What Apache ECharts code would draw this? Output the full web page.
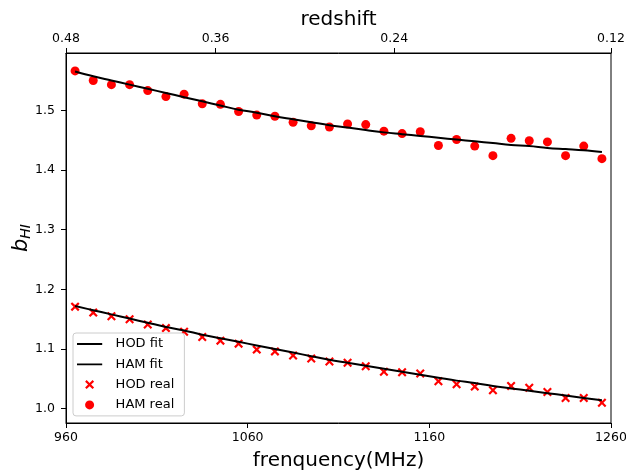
<!DOCTYPE html>
<html>
<head>
<meta charset="utf-8">
<script src="https://cdn.jsdelivr.net/npm/echarts@6/dist/echarts.min.js"></script>
<style>html,body{margin:0;padding:0;background:#fff}#c{width:626px;height:473px}</style>
</head>
<body>
<div id="c"></div>
<script>
var freq = [965,975,985,995,1005,1015,1025,1035,1045,1055,1065,1075,1085,1095,1105,1115,1125,1135,1145,1155,1165,1175,1185,1195,1205,1215,1225,1235,1245,1255];
var hamReal = [1.566,1.550,1.543,1.543,1.533,1.523,1.527,1.511,1.510,1.498,1.492,1.490,1.480,1.474,1.472,1.477,1.476,1.465,1.461,1.464,1.441,1.451,1.440,1.424,1.453,1.449,1.447,1.424,1.440,1.419];
var hamFit = [1.565,1.557,1.550,1.543,1.536,1.529,1.522,1.515,1.508,1.501,1.496,1.490,1.485,1.480,1.475,1.471,1.467,1.463,1.460,1.457,1.454,1.451,1.448,1.445,1.442,1.440,1.437,1.435,1.433,1.430];
var hodReal = [1.171,1.161,1.155,1.150,1.141,1.135,1.129,1.120,1.114,1.109,1.099,1.096,1.089,1.084,1.079,1.077,1.071,1.062,1.061,1.059,1.046,1.041,1.037,1.031,1.038,1.035,1.028,1.018,1.018,1.010];
var hodFit = [1.172,1.165,1.158,1.151,1.144,1.137,1.131,1.124,1.118,1.112,1.106,1.100,1.094,1.088,1.082,1.077,1.072,1.067,1.062,1.057,1.052,1.047,1.043,1.038,1.034,1.030,1.026,1.022,1.018,1.014];
var freqTicks = [960,1060,1160,1260];
var zTicks = [0.48,0.36,0.24,0.12];
var yTicks = [1.0,1.1,1.2,1.3,1.4,1.5];

function pairs(xs, ys){ return xs.map(function(x,i){ return [x, ys[i]]; }); }
var invZ = zTicks.map(function(z){ return 1/(1+z); });

var FONT = 'DejaVu Sans';
var crossPath = 'path://M0,1.7 L1.7,0 L5,3.3 L8.3,0 L10,1.7 L6.7,5 L10,8.3 L8.3,10 L5,6.7 L1.7,10 L0,8.3 L3.3,5 Z';
var lineIcon = 'path://M0,4 L28,4 L28,6 L0,6 Z M0,0 L0.01,0 L0,0.01 Z M28,10 L27.99,10 L28,9.99 Z';

var chart = echarts.init(document.getElementById('c'), null, {renderer:'canvas'});
chart.setOption({
  animation: false,
  backgroundColor: '#fff',
  textStyle: {fontFamily: FONT, color: '#000'},
  grid: {left: 66, right: 15, top: 53, bottom: 50, outerBoundsMode: 'none', containLabel: false,
         show: true, borderColor: '#000', borderWidth: 1, backgroundColor: 'transparent'},
  legend: {
    orient: 'vertical', left: 73, top: 333,
    itemWidth: 28, itemHeight: 9, itemGap: 6.3,
    padding: [4, 10, 4, 4],
    borderColor: '#cccccc', borderWidth: 1, borderRadius: 3, backgroundColor: '#fff',
    textStyle: {fontFamily: FONT, fontSize: 13, color: '#000', lineHeight: 14, padding: [0,0,0,7]},
    data: [{name: 'HOD fit', icon: lineIcon}, {name: 'HAM fit', icon: lineIcon}, 'HOD real', 'HAM real']
  },
  xAxis: [{
    type: 'value', position: 'bottom', min: 960, max: 1260,
    name: 'frenquency(MHz)', nameLocation: 'middle', nameGap: 28, nameMoveOverlap: false,
    nameTextStyle: {fontFamily: FONT, fontSize: 20, color: '#000'},
    axisLine: {show: true, onZero: false, lineStyle: {color: '#000', width: 1}},
    axisTick: {show: true, inside: false, length: 5, customValues: freqTicks, lineStyle: {color: '#000'}},
    axisLabel: {customValues: freqTicks, fontFamily: FONT, fontSize: 12.5, color: '#000', margin: 8,
      formatter: function(v){ return String(Math.round(v)); }},
    splitLine: {show: false}
  },{
    type: 'value', position: 'top', min: invZ[0], max: invZ[invZ.length-1],
    name: 'redshift', nameLocation: 'middle', nameGap: 23, nameMoveOverlap: false,
    nameTextStyle: {fontFamily: FONT, fontSize: 20, color: '#000'},
    axisLine: {show: true, onZero: false, lineStyle: {color: '#000', width: 1}},
    axisTick: {show: true, inside: false, length: 5, customValues: invZ, lineStyle: {color: '#000'}},
    axisLabel: {customValues: invZ, fontFamily: FONT, fontSize: 12.5, color: '#000', margin: 8,
      formatter: function(v){ return (1/v - 1).toFixed(2); }},
    splitLine: {show: false}
  }],
  yAxis: {
    type: 'value', min: 0.976, max: 1.596,
    name: '{b|b}{s|HI}', nameLocation: 'middle', nameGap: 33, nameRotate: 90, nameMoveOverlap: false,
    nameTextStyle: {rich: {
      b: {fontFamily: FONT, fontStyle: 'italic', fontSize: 21, color: '#000'},
      s: {fontFamily: FONT, fontStyle: 'italic', fontSize: 14, color: '#000', verticalAlign: 'bottom', padding: [9,0,0,0]}
    }},
    axisLine: {show: true, onZero: false, lineStyle: {color: '#000', width: 1}},
    axisTick: {show: true, inside: false, length: 5, customValues: yTicks, lineStyle: {color: '#000'}},
    axisLabel: {customValues: yTicks, fontFamily: FONT, fontSize: 12.5, color: '#000', margin: 11,
      formatter: function(v){ return v.toFixed(1); }},
    splitLine: {show: false}
  },
  series: [
    {name: 'HOD fit', type: 'line', xAxisIndex: 0, data: pairs(freq, hodFit), symbol: 'none', smooth: 0.4,
     lineStyle: {color: '#000', width: 2}, itemStyle: {color: '#000'}, z: 3},
    {name: 'HAM fit', type: 'line', xAxisIndex: 0, data: pairs(freq, hamFit), symbol: 'none', smooth: 0.4,
     lineStyle: {color: '#000', width: 2}, itemStyle: {color: '#000'}, z: 3},
    {name: 'HOD real', type: 'scatter', xAxisIndex: 0, data: pairs(freq, hodReal), symbol: crossPath, symbolSize: 9,
     itemStyle: {color: '#ff0000', opacity: 1}, z: 2},
    {name: 'HAM real', type: 'scatter', xAxisIndex: 0, data: pairs(freq, hamReal), symbol: 'circle', symbolSize: 9,
     itemStyle: {color: '#ff0000', opacity: 1}, z: 2}
  ]
});
</script>
</body>
</html>
